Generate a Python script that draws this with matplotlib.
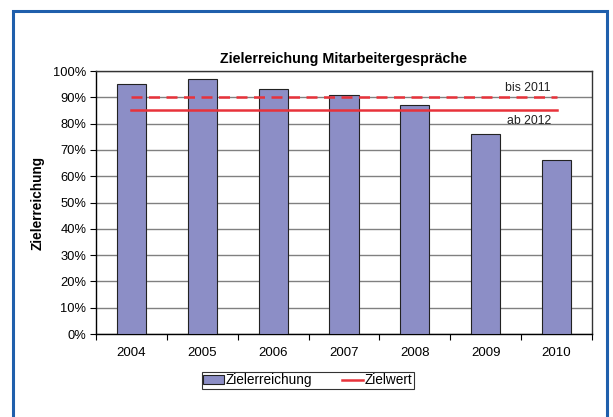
import matplotlib
matplotlib.use("Agg")
import matplotlib.pyplot as plt
from matplotlib.patches import Rectangle
from matplotlib.ticker import PercentFormatter

plt.rcParams['font.family'] = ['Liberation Sans', 'DejaVu Sans']

# data
jahre = ['2004', '2005', '2006', '2007', '2008', '2009', '2010']
zielerreichung = [95, 97, 93, 91, 87, 76, 66]
zielwert_bis_2011 = 90
zielwert_ab_2012 = 85

bar_color = '#8c8ec6'
red = '#e8323a'

fig = plt.figure(figsize=(6.13, 4.17), dpi=100)
ax = fig.add_axes([0.1566, 0.199, 0.8091, 0.6307])

x = range(len(jahre))
bars = ax.bar(x, zielerreichung, width=0.41, color=bar_color,
              edgecolor='#222222', linewidth=0.8, zorder=3, label='Zielerreichung')

# target lines (from first to last category)
ax.plot([0, len(jahre) - 1], [zielwert_bis_2011] * 2, color=red, lw=1.8,
        dashes=(4.4, 2.6), zorder=4)
line, = ax.plot([0, len(jahre) - 1], [zielwert_ab_2012] * 2, color=red, lw=1.8,
                zorder=4, label='Zielwert')

ax.text(5.92, 91.2, 'bis 2011', ha='right', va='bottom', fontsize=8.8, color='#222222')
ax.text(5.92, 83.3, 'ab 2012', ha='right', va='top', fontsize=8.8, color='#222222')

ax.set_xlim(-0.5, len(jahre) - 0.5)
ax.set_ylim(0, 100)
ax.set_yticks(range(0, 101, 10))
ax.yaxis.set_major_formatter(PercentFormatter(decimals=0))
ax.set_xticks(list(x))
ax.set_xticklabels(jahre)
ax.set_xticks([i + 0.5 for i in range(-1, len(jahre))], minor=True)
ax.tick_params(axis='x', which='major', length=0, pad=9, labelsize=9.5)
ax.tick_params(axis='x', which='minor', length=4, direction='out', width=0.8)
ax.tick_params(axis='y', length=4, direction='out', width=0.8, labelsize=9.3, pad=3)

ax.grid(axis='y', color='#808080', lw=1.0, zorder=0)
ax.set_axisbelow(True)
for side in ['left', 'bottom']:
    ax.spines[side].set_color('black')
    ax.spines[side].set_linewidth(1.0)
for side in ['top', 'right']:
    ax.spines[side].set_color('#333333')
    ax.spines[side].set_linewidth(1.0)

ax.set_title('Zielerreichung Mitarbeitergespräche', fontsize=10.3, fontweight='bold', pad=6)
ax.set_ylabel('Zielerreichung', fontsize=9.8, fontweight='bold', labelpad=6)

leg = fig.legend(handles=[bars, line], loc='upper center', bbox_to_anchor=(0.502, 0.108),
                 ncol=2, fontsize=9.8, frameon=True, fancybox=False, shadow=False,
                 borderpad=0.1, handlelength=1.5, handleheight=0.7, handletextpad=0.15,
                 columnspacing=2.2, borderaxespad=0)
leg.get_frame().set_edgecolor('black')
leg.get_frame().set_linewidth(0.8)

# blue frame around the chart area
fig.patches.append(Rectangle((13 / 613, -0.1), (607 - 13) / 613, 1.1 - 11 / 417,
                             transform=fig.transFigure, fill=False,
                             edgecolor='#1f5fac', lw=2.2, clip_on=False))

fig.savefig('out.png', dpi=100)
